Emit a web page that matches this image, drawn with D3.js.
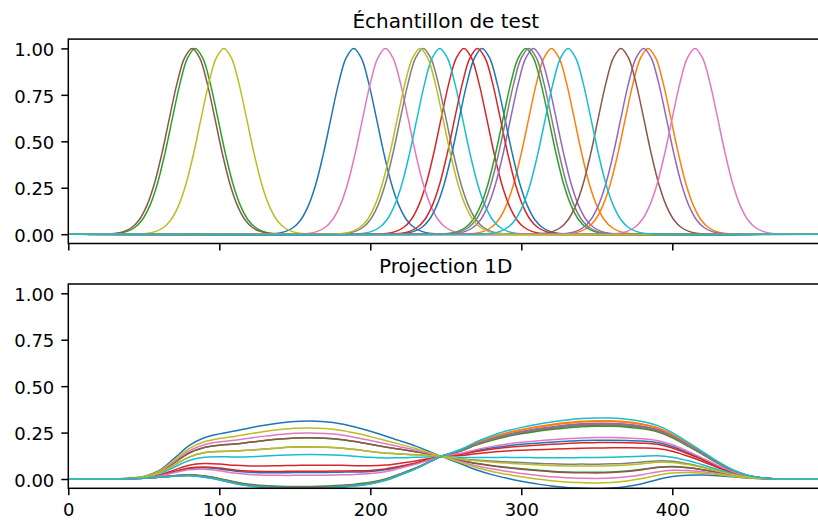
<!DOCTYPE html>
<html>
<head>
<meta charset="utf-8">
<script src="https://cdn.jsdelivr.net/npm/d3@7"></script>
<style>
    body { margin: 0; background: #ffffff; }
    svg { display: block; font-family: "DejaVu Sans", sans-serif; }
</style>
</head>
<body>
<div class="vis-chart"></div>
<script>
// centres of the 20 test gaussians (top panel)
const centers = [189, 320, 84, 262, 308, 82, 210, 235, 103, 246, 274, 384, 303, 271, 381, 366, 415, 305, 233, 331]

// one bump: offset from centre -> height
const bumpOffsets = [0, 5, 10, 15, 20, 25, 30, 35, 40, 45, 50, 55, 60]
const bumpValues = [1.0, 0.949, 0.812, 0.626, 0.435, 0.272, 0.154, 0.078, 0.036, 0.015, 0.005, 0.002, 0]

// projection panel: level of each curve at x=160 (left hump) and x=350 (right hump)
const leftLevels = [0.312, -0.050, 0.222, 0.074, -0.047, 0.222, 0.248, 0.173, 0.275, 0.132,
    0.035, -0.049, -0.040, 0.042, -0.046, -0.044, 0.020, -0.045, 0.173, -0.052]
const rightLevels = [-0.052, 0.314, 0.036, 0.167, 0.300, 0.033, 0.003, 0.080, -0.021, 0.116,
    0.209, 0.310, 0.284, 0.196, 0.297, 0.290, 0.223, 0.293, 0.070, 0.329]

// sample grid of the projection panel with the upper and lower envelope
const gridX = [0, 30, 40, 50, 60, 70, 80, 90, 100, 110, 120, 130, 140, 150, 160, 170, 180, 190, 200, 210, 220, 230, 240, 247,
    260, 270, 280, 290, 300, 310, 320, 330, 340, 350, 360, 370, 380, 390, 400, 410, 420, 430, 440, 450, 460, 470, 480, 500]
const upperEnv = [0, 0.001, 0.004, 0.014, 0.045, 0.11, 0.18, 0.222, 0.243, 0.258, 0.275, 0.29, 0.302, 0.31, 0.312, 0.308, 0.298, 0.28, 0.257, 0.232, 0.205, 0.177, 0.145, 0.122,
    0.16, 0.2, 0.232, 0.258, 0.278, 0.294, 0.307, 0.318, 0.326, 0.329, 0.328, 0.322, 0.31, 0.289, 0.25, 0.2, 0.148, 0.095, 0.05, 0.02, 0.006, 0.001, 0, 0]
const lowerEnv = [0, 0.0005, 0.001, 0.004, 0.009, 0.015, 0.018, 0.01, -0.005, -0.024, -0.038, -0.046, -0.05, -0.052, -0.052, -0.05, -0.045, -0.038, -0.027, -0.008, 0.022, 0.055, 0.095, 0.122,
    0.082, 0.05, 0.025, 0.005, -0.012, -0.026, -0.038, -0.046, -0.05, -0.052, -0.049, -0.04, -0.025, -0.004, 0.013, 0.02, 0.021, 0.018, 0.012, 0.006, 0.002, 0.0005, 0, 0]

const xTicks = [0, 100, 200, 300, 400]
const yTicks = [0, 0.25, 0.5, 0.75, 1]
const titles = ['Échantillon de test', 'Projection 1D']
const palette = ['#1f77b4', '#ff7f0e', '#2ca02c', '#d62728', '#9467bd', '#8c564b', '#e377c2', '#7f7f7f', '#bcbd22', '#17becf']

const dimensions = {
    width: 818,
    height: 521,
    left: 68.3,
    right: 823.3,
    panels: [
        { top: 39.1, bottom: 243.5 },
        { top: 284.0, bottom: 488.3 }
    ]
}

let svg = d3.select('.vis-chart').append('svg')
    .attr('width', dimensions.width)
    .attr('height', dimensions.height)

let xScale = d3.scaleLinear()
    .domain([0, 500])
    .range([dimensions.left, dimensions.right])

let yScales = dimensions.panels.map(p => d3.scaleLinear()
    .domain([-0.05, 1.05])
    .range([p.bottom, p.top]))

const line = (yScale) => d3.line()
    .x(d => xScale(d[0]))
    .y(d => yScale(d[1]))
    .curve(d3.curveCatmullRom.alpha(0.5))

makeVisualization()

function makeVisualization() {
    dimensions.panels.forEach((p, i) => {
        svg.append('clipPath')
            .attr('id', 'clip' + i)
            .append('rect')
            .attr('x', dimensions.left)
            .attr('y', p.top)
            .attr('width', dimensions.right - dimensions.left)
            .attr('height', p.bottom - p.top)
    })

    drawSamples()
    drawProjections()
    dimensions.panels.forEach((p, i) => drawAxis(p, yScales[i], i === 1))
    dimensions.panels.forEach((p, i) => addTitle(p, titles[i]))
}

/* top panel: the gaussians */
function drawSamples() {
    let g = svg.append('g').attr('clip-path', 'url(#clip0)')
    centers.forEach((c, i) => {
        let pts = [[0, 0]]
        for (let k = bumpOffsets.length - 1; k > 0; k--) pts.push([c - bumpOffsets[k], bumpValues[k]])
        bumpOffsets.forEach((o, k) => pts.push([c + o, bumpValues[k]]))
        pts.push([500, 0])
        g.append('path')
            .attr('d', line(yScales[0])(pts))
            .attr('fill', 'none')
            .attr('stroke', palette[i % 10])
            .attr('stroke-width', 1.5)
    })
}

/* bottom panel: the 1D reconstructions */
function drawProjections() {
    let g = svg.append('g').attr('clip-path', 'url(#clip1)')
    const kL = gridX.indexOf(160)
    const kR = gridX.indexOf(350)
    leftLevels.forEach((lv, i) => {
        let wL = (lv - lowerEnv[kL]) / (upperEnv[kL] - lowerEnv[kL])
        let wR = (rightLevels[i] - lowerEnv[kR]) / (upperEnv[kR] - lowerEnv[kR])
        let pts = gridX.map((x, j) => {
            let w = x < 247 ? wL : wR
            return [x, lowerEnv[j] + w * (upperEnv[j] - lowerEnv[j])]
        })
        g.append('path')
            .attr('d', line(yScales[1])(pts))
            .attr('fill', 'none')
            .attr('stroke', palette[i % 10])
            .attr('stroke-width', 1.5)
    })
}

function drawAxis(p, yScale, withLabels) {
    let yAxis = d3.axisLeft(yScale)
        .tickValues(yTicks)
        .tickFormat(d3.format('.2f'))
        .tickSize(7)
        .tickPadding(7)
    let xAxis = d3.axisBottom(xScale)
        .tickValues(xTicks)
        .tickFormat(withLabels ? d3.format('d') : '')
        .tickSize(7)
        .tickPadding(6)

    let gy = svg.append('g')
        .attr('transform', 'translate(' + dimensions.left + ',0)')
        .call(yAxis)
    let gx = svg.append('g')
        .attr('transform', 'translate(0,' + p.bottom + ')')
        .call(xAxis);

    [gy, gx].forEach(g => {
        g.select('.domain').remove()
        g.selectAll('line').attr('stroke', '#000').attr('stroke-width', 1.5)
        g.selectAll('text').attr('fill', '#000').style('font-size', '18px').style('font-family', '"DejaVu Sans", sans-serif')
    })
    gy.selectAll('text').attr('dy', '0.40em')
    gx.selectAll('text').attr('dy', '0.80em')

    // spines
    svg.append('rect')
        .attr('x', dimensions.left)
        .attr('y', p.top)
        .attr('width', dimensions.right - dimensions.left)
        .attr('height', p.bottom - p.top)
        .attr('fill', 'none')
        .attr('stroke', '#000')
        .attr('stroke-width', 1.5)
}

function addTitle(p, text) {
    svg.append('text')
        .attr('x', (dimensions.left + dimensions.right) / 2)
        .attr('y', p.top - 11.5)
        .attr('text-anchor', 'middle')
        .style('font-size', '20px')
        .style('font-family', '"DejaVu Sans", sans-serif')
        .text(text)
}
</script>
</body>
</html>
